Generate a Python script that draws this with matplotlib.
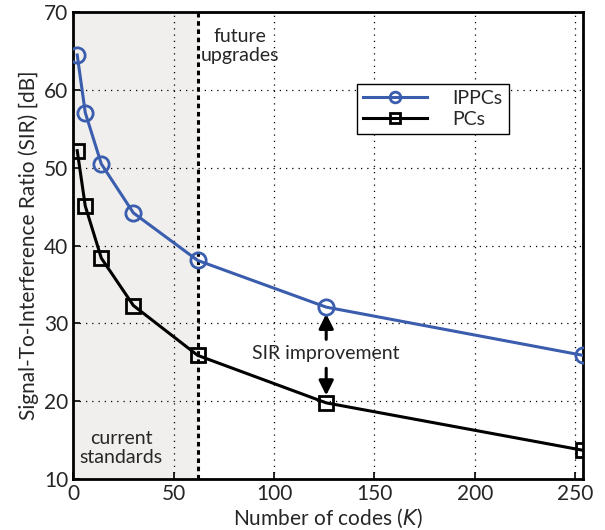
import numpy as np
import matplotlib
matplotlib.use('Agg')
import matplotlib.pyplot as plt

plt.rcParams['font.family'] = ['Lato', 'DejaVu Sans']
plt.rcParams['text.color'] = '#262626'
plt.rcParams['axes.labelcolor'] = '#262626'
plt.rcParams['xtick.labelcolor'] = '#262626'
plt.rcParams['ytick.labelcolor'] = '#262626'

codes = [2, 6, 14, 30, 62, 126, 254]
sir_ippc = [64.5, 57.1, 50.5, 44.2, 38.1, 32.1, 25.9]
sir_pc = [52.2, 45.1, 38.4, 32.3, 25.9, 19.8, 13.7]
k_now = 62

fig = plt.figure(figsize=(6.05, 5.3), dpi=100)
ax = fig.add_axes([0.121, 0.096, 0.843, 0.881])

ax.axvspan(0, k_now, color='#f0efee', zorder=0)
ax.axvline(k_now, color='black', lw=2.2, ls=(0, (1.5, 1.2)), zorder=2)

ax.plot(codes, sir_ippc, color='#3a5dae', lw=2.2, marker='o', ms=11,
        mfc='none', mew=2, label='IPPCs', zorder=4)
ax.plot(codes, sir_pc, color='black', lw=2.2, marker='s', ms=10,
        mfc='none', mew=2, label='PCs', zorder=4)

ax.set_xlim(0, 254)
ax.set_ylim(10, 70)
ax.set_xticks([0, 50, 100, 150, 200, 250])
ax.set_yticks([10, 20, 30, 40, 50, 60, 70])
ax.grid(True, color='black', ls=(0, (1, 4)), lw=0.9)
ax.set_axisbelow(True)
ax.tick_params(labelsize=15, direction='in', length=5, width=1.2)
for s in ax.spines.values():
    s.set_linewidth(2)

ax.set_xlabel('Number of codes ($\\mathit{K}$)', fontsize=15, labelpad=2)
ax.set_ylabel('Signal-To-Interference Ratio (SIR) [dB]', fontsize=15, labelpad=4)

ax.text(83, 65.6, 'future\nupgrades', fontsize=14, ha='center', va='center',
        linespacing=1.15)
ax.text(24, 14.0, 'current\nstandards', fontsize=14, ha='center', va='center',
        linespacing=1.15)

ax.text(126, 26.2, 'SIR improvement', fontsize=14, ha='center', va='center')
ax.annotate('', xy=(126, 31.6), xytext=(126, 27.6),
            arrowprops=dict(arrowstyle='-|>', color='black', lw=2.2,
                            mutation_scale=22))
ax.annotate('', xy=(126, 20.4), xytext=(126, 24.6),
            arrowprops=dict(arrowstyle='-|>', color='black', lw=2.2,
                            mutation_scale=22))

leg = ax.legend(loc='upper left', bbox_to_anchor=(0.557, 0.846), fontsize=14,
                frameon=True, fancybox=False, edgecolor='black',
                framealpha=1, markerscale=0.7, handlelength=3.3,
                borderpad=0.3, labelspacing=0.2, handletextpad=1.3,
                borderaxespad=0)
leg.get_frame().set_linewidth(1)

fig.savefig('out.png', dpi=100)
